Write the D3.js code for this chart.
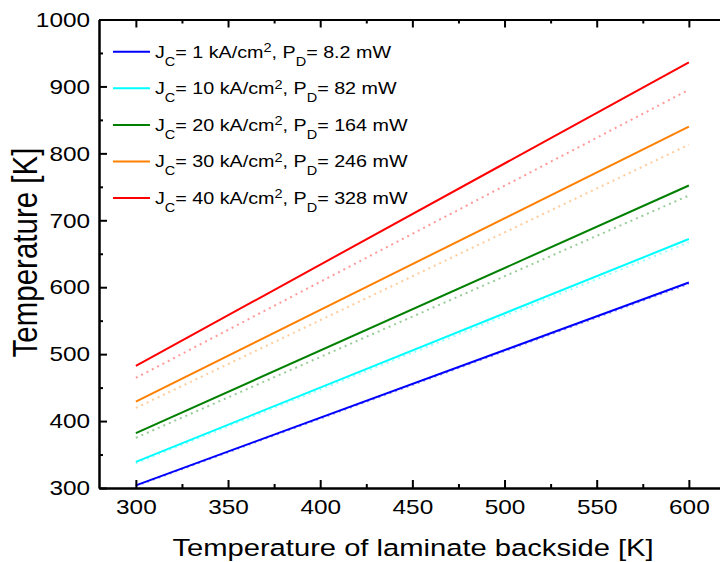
<!DOCTYPE html>
<html>
<head>
<meta charset="utf-8">
<script src="https://cdn.jsdelivr.net/npm/d3@7"></script>
<style>
  html, body { margin: 0; padding: 0; background: #fff; }
  svg { display: block; font-family: "Liberation Sans", Arial, sans-serif; }
</style>
</head>
<body>
<svg id="chart" width="720" height="562"></svg>
<script>
// ---- data ----
const xValues = [300, 600];
const seriesNames = ["1", "10", "20", "30", "40"];
const seriesPower = ["8.2", "82", "164", "246", "328"];
const seriesColors = ["#0000ff", "#00ffff", "#008000", "#ff8000", "#ff0000"];
const solidBlue   = [304, 607];
const solidCyan   = [339, 672];
const solidGreen  = [382, 752];
const solidOrange = [429, 840];
const solidRed    = [482.5, 936];
const dotBlue     = [303, 605];
const dotCyan     = [337, 667];
const dotGreen    = [375, 737];
const dotOrange   = [419.6, 813];
const dotRed      = [464.5, 895];
const xTicks = [300, 350, 400, 450, 500, 550, 600];
const xMinor = [325, 375, 425, 475, 525, 575];
const yTicks = [300, 400, 500, 600, 700, 800, 900, 1000];
const yMinor = [350, 450, 550, 650, 750, 850, 950];

const solidSeries = [solidBlue, solidCyan, solidGreen, solidOrange, solidRed];
const dotSeries = [dotBlue, dotCyan, dotGreen, dotOrange, dotRed];

const SX = 1.16; // horizontal text stretch
const svg = d3.select("#chart");
const x = d3.scaleLinear().domain([280, 620]).range([99, 99 + 340 * (553 / 300)]);
const y = d3.scaleLinear().domain([300, 1000]).range([488, 19.5]);

const line = d3.line().x((d, i) => x(xValues[i])).y(d => y(d));

// dotted (lighter) lines
dotSeries.forEach((s, i) => {
  svg.append("path").datum(s)
    .attr("d", line)
    .attr("fill", "none")
    .attr("stroke", seriesColors[i])
    .attr("stroke-opacity", 0.4)
    .attr("stroke-width", 2)
    .attr("stroke-dasharray", "2,4");
});
// solid lines
solidSeries.forEach((s, i) => {
  svg.append("path").datum(s)
    .attr("d", line)
    .attr("fill", "none")
    .attr("stroke", seriesColors[i])
    .attr("stroke-width", 2);
});

// axes
function styleAxis(g) {
  g.select(".domain").attr("stroke", "#000").attr("stroke-width", 2);
  g.selectAll(".tick line").attr("stroke", "#000").attr("stroke-width", 2);
}
const fmt = d3.format("d");

// inward ticks: axes oriented towards the inside, positive tick sizes
// bottom edge (ticks point up)
svg.append("g").attr("transform", "translate(0,488)")
  .call(d3.axisTop(x).tickValues(xMinor).tickSize(4).tickSizeOuter(0).tickFormat(""))
  .call(styleAxis);
svg.append("g").attr("transform", "translate(0,488)")
  .call(d3.axisTop(x).tickValues(xTicks).tickSize(8).tickSizeOuter(0).tickFormat(""))
  .call(styleAxis);
// top edge (ticks point down)
svg.append("g").attr("transform", "translate(0,19.5)")
  .call(d3.axisBottom(x).tickValues(xMinor).tickSize(4).tickSizeOuter(0).tickFormat(""))
  .call(styleAxis);
svg.append("g").attr("transform", "translate(0,19.5)")
  .call(d3.axisBottom(x).tickValues(xTicks).tickSize(8).tickSizeOuter(0).tickFormat(""))
  .call(styleAxis);
// left edge (ticks point right)
svg.append("g").attr("transform", "translate(99,0)")
  .call(d3.axisRight(y).tickValues(yMinor).tickSize(4).tickSizeOuter(0).tickFormat(""))
  .call(styleAxis);
svg.append("g").attr("transform", "translate(99,0)")
  .call(d3.axisRight(y).tickValues(yTicks).tickSize(8).tickSizeOuter(0).tickFormat(""))
  .call(styleAxis);

// labels
const gx = svg.append("g").attr("transform", "translate(0,488)")
  .call(d3.axisBottom(x).tickValues(xTicks).tickFormat(fmt).tickSize(0).tickPadding(11));
gx.select(".domain").remove();
gx.selectAll("text").attr("fill", "#000").attr("font-size", 21)
  .attr("font-family", "Liberation Sans, Arial, sans-serif")
  .attr("transform", `scale(${SX},1)`);
const gy = svg.append("g").attr("transform", "translate(99,0)")
  .call(d3.axisLeft(y).tickValues(yTicks).tickFormat(fmt).tickSize(0).tickPadding(9));
gy.select(".domain").remove();
gy.selectAll("text").attr("fill", "#000").attr("font-size", 21)
  .attr("font-family", "Liberation Sans, Arial, sans-serif")
  .attr("x", -9 / SX)
  .attr("transform", `scale(${SX},1)`);

// axis titles
svg.append("text")
  .attr("transform", `translate(413,556) scale(1.2,1)`)
  .attr("text-anchor", "middle")
  .attr("font-size", 24.3)
  .attr("fill", "#000")
  .text("Temperature of laminate backside [K]");
svg.append("text")
  .attr("transform", `translate(37,252.5) scale(1.2,1) rotate(-90)`)
  .attr("text-anchor", "middle")
  .attr("font-size", 29.5)
  .attr("fill", "#000")
  .text("Temperature [K]");

// legend
const legY0 = 51.7, legDY = 36.6;
seriesNames.forEach((name, i) => {
  const ly = legY0 + i * legDY;
  svg.append("line")
    .attr("x1", 113).attr("x2", 150).attr("y1", ly).attr("y2", ly)
    .attr("stroke", seriesColors[i]).attr("stroke-width", 2);
  const t = svg.append("text")
    .attr("transform", `translate(155,${ly + 5.8}) scale(${SX},1)`)
    .attr("font-size", 17)
    .attr("fill", "#000");
  t.append("tspan").text("J");
  t.append("tspan").attr("font-size", 12.5).attr("dy", 8).text("C");
  t.append("tspan").attr("dy", -8).text(`= ${name} kA/cm`);
  t.append("tspan").attr("font-size", 12.5).attr("dy", -5.5).text("2");
  t.append("tspan").attr("dy", 5.5).text(", P");
  t.append("tspan").attr("font-size", 12.5).attr("dy", 8).text("D");
  t.append("tspan").attr("dy", -8).text(`= ${seriesPower[i]} mW`);
});
</script>
</body>
</html>
